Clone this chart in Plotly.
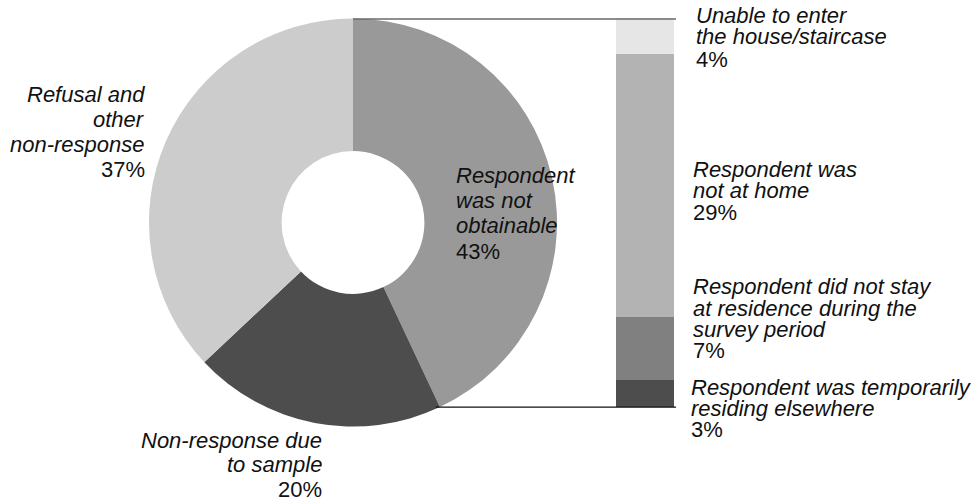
import math
import plotly.graph_objects as go

# Main breakdown of non-response (donut)
pie_labels = ["Respondent was not obtainable", "Non-response due to sample", "Refusal and other non-response"]
pie_values = [43, 20, 37]
pie_colors = ["#999999", "#4d4d4d", "#cccccc"]

# Breakdown of "Respondent was not obtainable" (stacked bar, bottom to top)
bar_labels = ["Respondent was temporarily residing elsewhere",
              "Respondent did not stay at residence during the survey period",
              "Respondent was not at home",
              "Unable to enter the house/staircase"]
bar_values = [3, 7, 29, 4]
bar_colors = ["#4d4d4d", "#808080", "#b3b3b3", "#e6e6e6"]

W, H = 977, 504
FONT = "Liberation Sans, Arial, sans-serif"
FS = 22


def px_x(x):
    return x / W


def px_y(y):
    return 1 - y / H


# geometry of the donut and the bar (pixels)
cx, cy, r = 353, 222.5, 204
bar_x0, bar_x1, bar_top, bar_bot = 616, 674, 18, 407

fig = go.Figure()

fig.add_trace(go.Pie(
    labels=pie_labels, values=pie_values, sort=False, direction="clockwise", rotation=0,
    hole=0.35, textinfo="none", hoverinfo="label+percent", showlegend=False,
    marker=dict(colors=pie_colors, line=dict(width=0)),
    domain=dict(x=[px_x(cx - r), px_x(cx + r)], y=[px_y(cy + r), px_y(cy - r)]),
))

for lab, val, col in zip(bar_labels, bar_values, bar_colors):
    fig.add_trace(go.Bar(x=[0], y=[val], name=lab, marker=dict(color=col, line=dict(width=0)),
                         width=1, showlegend=False))

# connector lines from the "not obtainable" slice to the bar
ang = 2 * math.pi * pie_values[0] / sum(pie_values)
ex, ey = cx + r * math.sin(ang), cy - r * math.cos(ang)
shapes = [
    dict(type="line", xref="paper", yref="paper", x0=px_x(cx), y0=px_y(bar_top + 1),
         x1=px_x(bar_x1 + 2), y1=px_y(bar_top + 1), line=dict(color="#6a6a6a", width=1.6)),
    dict(type="line", xref="paper", yref="paper", x0=px_x(ex - 4), y0=px_y(ey),
         x1=px_x(bar_x1 + 2), y1=px_y(ey), line=dict(color="#111111", width=1.2)),
]

annotations = []


def label(lines, x, baselines, anchor):
    for t, b in zip(lines, baselines):
        annotations.append(dict(
            text=t, x=px_x(x), y=px_y(b - 0.3465 * FS), xref="paper", yref="paper",
            xanchor=anchor, yanchor="middle", showarrow=False, borderpad=0,
            font=dict(family=FONT, size=FS, color="#111111"), align=anchor,
        ))


label(["<i>Refusal and</i>", "<i>other</i>", "<i>non-response</i>", "37%"], 146,
      [101.7, 126.7, 151.7, 176.7], "right")
label(["<i>Respondent</i>", "<i>was not</i>", "<i>obtainable</i>", "43%"], 455,
      [183, 208, 233, 259], "left")
label(["<i>Non-response due</i>", "<i>to sample</i>", "20%"], 323,
      [448, 472, 497], "right")

label(["<i>Unable to enter</i>", "<i>the house/staircase</i>", "4%"], 695,
      [23.3, 44.3, 66.7], "left")
label(["<i>Respondent was</i>", "<i>not at home</i>", "29%"], 692,
      [177.3, 198.3, 220], "left")
label(["<i>Respondent did not stay</i>", "<i>at residence during the</i>", "<i>survey period</i>", "7%"], 692,
      [294, 315.7, 336.7, 358.3], "left")
label(["<i>Respondent was temporarily</i>", "<i>residing elsewhere</i>", "3%"], 690,
      [395, 416, 437.5], "left")

fig.update_layout(
    width=W, height=H, margin=dict(l=0, r=0, t=0, b=0), autosize=False,
    paper_bgcolor="white", plot_bgcolor="white", barmode="stack", bargap=0,
    xaxis=dict(domain=[px_x(bar_x0), px_x(bar_x1)], range=[-0.5, 0.5], visible=False, fixedrange=True),
    yaxis=dict(domain=[px_y(bar_bot), px_y(bar_top)], range=[0, sum(bar_values)], visible=False,
               fixedrange=True),
    shapes=shapes, annotations=annotations,
)

fig.write_html("out.html", config={"displayModeBar": False})
